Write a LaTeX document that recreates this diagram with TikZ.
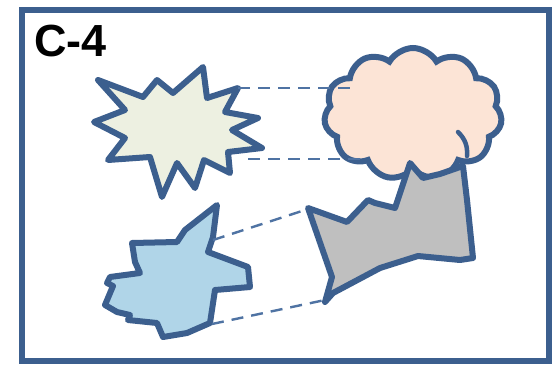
\documentclass[tikz,border=0pt]{standalone}
\usepackage{fontspec}
\setmainfont{Liberation Sans}
\usetikzlibrary{shapes.symbols}
\definecolor{edge}{HTML}{3C5F8E}
\definecolor{dashc}{HTML}{4F73A3}
\definecolor{starfill}{HTML}{EDF0E1}
\definecolor{cloudfill}{HTML}{FCE4D6}
\definecolor{bluefill}{HTML}{B0D5E8}
\definecolor{grayfill}{HTML}{BFBFBF}
\tikzset{
  blob/.style={draw=edge, line width=6pt, line join=round, line cap=round},
  link/.style={draw=dashc, line width=2.4pt, dash pattern=on 12pt off 8pt},
}
\begin{document}
\begin{tikzpicture}[x=1pt,y=-1pt]
\useasboundingbox (0,0) rectangle (555,365);
\fill[white] (0,0) rectangle (555,365);
% frame
\node[draw=edge, line width=6pt, minimum width=527pt, minimum height=351pt, inner sep=0pt] (frame) at (285.5,185.5) {};
\node[anchor=base west, font=\bfseries\fontsize{45}{45}\selectfont, inner sep=0pt] (title) at (34,56) {C-4};
% star
\path[blob, fill=starfill] (98,80) -- (143,97) -- (157,80) -- (173,93) -- (203,67) -- (207,98)
  -- (238,88) -- (225,112) -- (258,118) -- (232,130) -- (262,148) -- (228,152)
  -- (230,173) -- (204,160) -- (195,188) -- (177,163) -- (162,197) -- (150,157)
  -- (108,160) -- (125,138) -- (94,122) -- (125,110) -- cycle;
\coordinate (s1) at (238,88);
\coordinate (s2) at (248,159);
% cloud
\node[cloud, cloud puffs=11, cloud puff arc=120, aspect=1.4, draw=edge, line width=6pt, fill=cloudfill, minimum width=178pt, minimum height=132pt, inner sep=0pt] (cloud) at (413,114) {};
\draw[edge, line width=4.5pt, line cap=round] (458,132) to[bend left=25] (467,156);
\coordinate (c1) at (357,88);
\coordinate (c2) at (365,159);
% gray shape
\path[blob, fill=grayfill] (308,208) -- (347,222) -- (368,200) -- (375,203) -- (395,208) -- (410,163)
  -- (423,178) -- (440,174) -- (463,166) -- (467,200) -- (473,258) -- (460,260)
  -- (418,256) -- (380,268) -- (333,293) -- (325,302) -- (332,277) -- cycle;
\coordinate (g1) at (305,210);
\coordinate (g2) at (325,300);
% blue shape
\path[blob, fill=bluefill] (217,205) -- (185,230) -- (177,242) -- (132,243) -- (135,262)
  -- (140,273) -- (110,277) -- (107,283) -- (113,286) -- (105,305) -- (117,312)
  -- (130,315) -- (128,320) -- (157,323) -- (163,337) -- (187,333) -- (210,323)
  -- (215,290) -- (250,287) -- (248,267) -- (208,252) -- (213,237) -- cycle;
\coordinate (b1) at (213,240);
\coordinate (b2) at (212,324);
% dashed connectors
\draw[link] (s1) -- (c1);
\draw[link] (s2) -- (c2);
\draw[link] (b1) -- (g1);
\draw[link] (b2) -- (g2);
\end{tikzpicture}
\end{document}
